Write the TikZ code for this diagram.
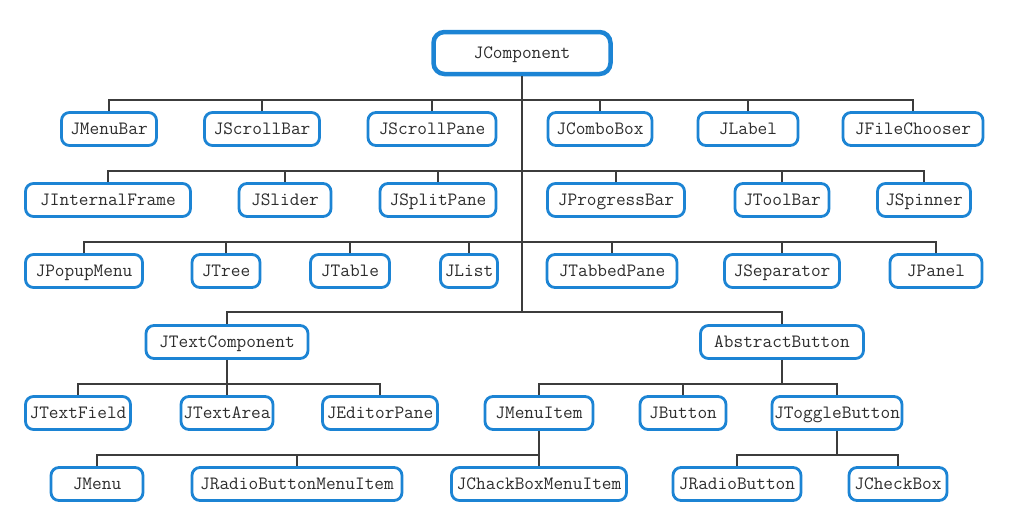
\documentclass[tikz,border=0pt]{standalone}
\usepackage{tikz}
\definecolor{boxblue}{RGB}{28,132,212}
\definecolor{wire}{RGB}{60,60,60}
\definecolor{ink}{RGB}{45,45,45}
\tikzset{
  cls/.style={draw=boxblue, line width=2.8pt, rounded corners=8pt, fill=white,
    minimum height=33pt, inner sep=0pt, text=ink, text height=11.4pt, text depth=0.5pt,
    font=\fontsize{18.8}{22}\ttfamily},
  root/.style={cls, line width=4.5pt, rounded corners=11pt, minimum height=42pt},
  link/.style={draw=wire, line width=1.1pt}
}

\begin{document}
\begin{tikzpicture}[x=1pt, y=-1pt]
    \useasboundingbox (0,0) rectangle (1011,530);
    % bus levels
    \coordinate (b1) at (522,100);
    \coordinate (b2) at (522,171);
    \coordinate (b3) at (522,242);
    \coordinate (b4) at (522,312);
    \coordinate (b5) at (227,384);
    \coordinate (b6) at (782,384);
    \coordinate (b7) at (539,455);
    \coordinate (b8) at (837,455);

    \node[root, minimum width=177pt] (comp) at (522,53) {JComponent};

    \node[cls, minimum width=95pt] (menubar) at (109,129) {JMenuBar};
    \node[cls, minimum width=115pt] (scrollbar) at (262,129) {JScrollBar};
    \node[cls, minimum width=128pt] (scrollpane) at (432,129) {JScrollPane};
    \node[cls, minimum width=104pt] (combobox) at (600,129) {JComboBox};
    \node[cls, minimum width=100pt] (label) at (748,129) {JLabel};
    \node[cls, minimum width=140pt] (filechooser) at (913,129) {JFileChooser};

    \node[cls, minimum width=165pt] (intframe) at (108,200) {JInternalFrame};
    \node[cls, minimum width=92pt] (slider) at (285,200) {JSlider};
    \node[cls, minimum width=116pt] (splitpane) at (438,200) {JSplitPane};
    \node[cls, minimum width=137pt] (progressbar) at (616,200) {JProgressBar};
    \node[cls, minimum width=94pt] (toolbar) at (782,200) {JToolBar};
    \node[cls, minimum width=93pt] (spinner) at (924,200) {JSpinner};

    \node[cls, minimum width=117pt] (popupmenu) at (84,271) {JPopupMenu};
    \node[cls, minimum width=68pt] (tree) at (226,271) {JTree};
    \node[cls, minimum width=79pt] (table) at (350,271) {JTable};
    \node[cls, minimum width=57pt] (list) at (469,271) {JList};
    \node[cls, minimum width=130pt] (tabbedpane) at (612,271) {JTabbedPane};
    \node[cls, minimum width=115pt] (separator) at (782,271) {JSeparator};
    \node[cls, minimum width=92pt] (panel) at (936,271) {JPanel};

    \node[cls, minimum width=162pt] (textcomp) at (227,342) {JTextComponent};
    \node[cls, minimum width=163pt] (abstractbtn) at (782,342) {AbstractButton};

    \node[cls, minimum width=105pt] (textfield) at (78,413) {JTextField};
    \node[cls, minimum width=92pt] (textarea) at (227,413) {JTextArea};
    \node[cls, minimum width=115pt] (editorpane) at (380,413) {JEditorPane};
    \node[cls, minimum width=108pt] (menuitem) at (539,413) {JMenuItem};
    \node[cls, minimum width=86pt] (button) at (683,413) {JButton};
    \node[cls, minimum width=130pt] (togglebtn) at (837,413) {JToggleButton};

    \node[cls, minimum width=92pt] (menu) at (97,484) {JMenu};
    \node[cls, minimum width=210pt] (radiomenuitem) at (297,484) {JRadioButtonMenuItem};
    \node[cls, minimum width=175pt] (checkmenuitem) at (539,484) {JChackBoxMenuItem};
    \node[cls, minimum width=128pt] (radiobtn) at (737,484) {JRadioButton};
    \node[cls, minimum width=98pt] (checkbox) at (898,484) {JCheckBox};

    % trunk
    \draw[link, line width=1.5pt] (comp.south) -- (b4);
    \foreach \n in {menubar,scrollbar,scrollpane,combobox,label,filechooser}
        \draw[link] (\n.north) |- (b1);
    \foreach \n in {intframe,slider,splitpane,progressbar,toolbar,spinner}
        \draw[link] (\n.north) |- (b2);
    \foreach \n in {popupmenu,tree,table,list,tabbedpane,separator,panel}
        \draw[link] (\n.north) |- (b3);
    \foreach \n in {textcomp,abstractbtn}
        \draw[link] (\n.north) |- (b4);
    \draw[link] (textcomp.south) -- (b5);
    \foreach \n in {textfield,textarea,editorpane}
        \draw[link] (\n.north) |- (b5);
    \draw[link] (abstractbtn.south) -- (b6);
    \foreach \n in {menuitem,button,togglebtn}
        \draw[link] (\n.north) |- (b6);
    \draw[link] (menuitem.south) -- (b7);
    \foreach \n in {menu,radiomenuitem,checkmenuitem}
        \draw[link] (\n.north) |- (b7);
    \draw[link] (togglebtn.south) -- (b8);
    \foreach \n in {radiobtn,checkbox}
        \draw[link] (\n.north) |- (b8);
\end{tikzpicture}
\end{document}
